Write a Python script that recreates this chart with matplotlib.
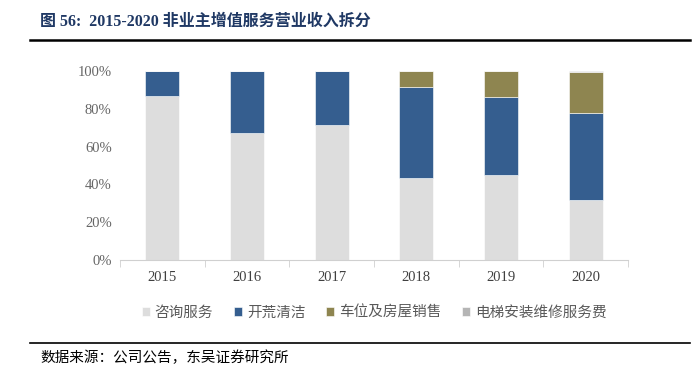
import matplotlib.pyplot as plt
from matplotlib.lines import Line2D
from matplotlib.ticker import PercentFormatter

plt.rcParams['font.family'] = ['Liberation Serif', 'Noto Sans CJK SC']

years = ['2015', '2016', '2017', '2018', '2019', '2020']
consult = [86.6, 67.2, 71.3, 43.2, 45.0, 31.7]
cleaning = [13.4, 32.8, 28.7, 48.5, 41.4, 45.9]
parking = [0.0, 0.0, 0.0, 8.3, 13.6, 21.7]
elevator = [0.0, 0.0, 0.0, 0.0, 0.0, 0.7]

series = [
    ('咨询服务', consult, '#dddddd'),
    ('开荒清洁', cleaning, '#355e8f'),
    ('车位及房屋销售', parking, '#8e8550'),
    ('电梯安装维修服务费', elevator, '#b5b5b5'),
]

fig = plt.figure(figsize=(6.95, 3.75), dpi=100)
ax = fig.add_axes([120 / 695, 115 / 375, 508 / 695, 189 / 375])

x = range(len(years))
bottom = [0.0] * len(years)
for name, vals, color in series:
    ax.bar(x, vals, 0.4, bottom=bottom, color=color, label=name,
           edgecolor='white', linewidth=0.4)
    bottom = [b + v for b, v in zip(bottom, vals)]

ax.set_xlim(-0.5, len(years) - 0.5)
ax.set_ylim(0, 100)
ax.set_yticks(range(0, 101, 20))
ax.yaxis.set_major_formatter(PercentFormatter(decimals=0))
ax.set_xticks(list(x))
ax.set_xticklabels(years)
ax.set_xticks([i + 0.5 for i in range(-1, len(years))], minor=True)
ax.tick_params(axis='x', which='major', length=0, pad=8, labelsize=10.5, colors='#404040')
ax.tick_params(axis='x', which='minor', length=5, color='#d0d0d0', direction='out')
ax.tick_params(axis='y', length=0, labelsize=10.5, colors='#666666', pad=6)
for s in ['top', 'right', 'left']:
    ax.spines[s].set_visible(False)
ax.spines['bottom'].set_color('#d0d0d0')

leg = ax.legend(loc='upper center', bbox_to_anchor=(0.5, -0.17), ncol=4,
                frameon=False, handlelength=0.6, handleheight=0.6,
                handletextpad=0.3, columnspacing=1.4, fontsize=10.5)
for t in leg.get_texts():
    t.set_color('#595959')

fig.text(40 / 695, 1 - 22 / 375, '图 56:  2015-2020 非业主增值服务营业收入拆分',
         fontsize=11.5, fontweight='bold', color='#1f3864', va='center')
fig.add_artist(Line2D([30 / 695, 690 / 695], [1 - 40 / 375, 1 - 40 / 375],
                      color='black', linewidth=1.8))
fig.add_artist(Line2D([30 / 695, 690 / 695], [1 - 343 / 375, 1 - 343 / 375],
                      color='black', linewidth=1.2))
fig.text(40 / 695, 1 - 358 / 375, '数据来源：公司公告，东吴证券研究所',
         fontsize=10.5, color='black', va='center')

fig.savefig('out.png', dpi=100)
